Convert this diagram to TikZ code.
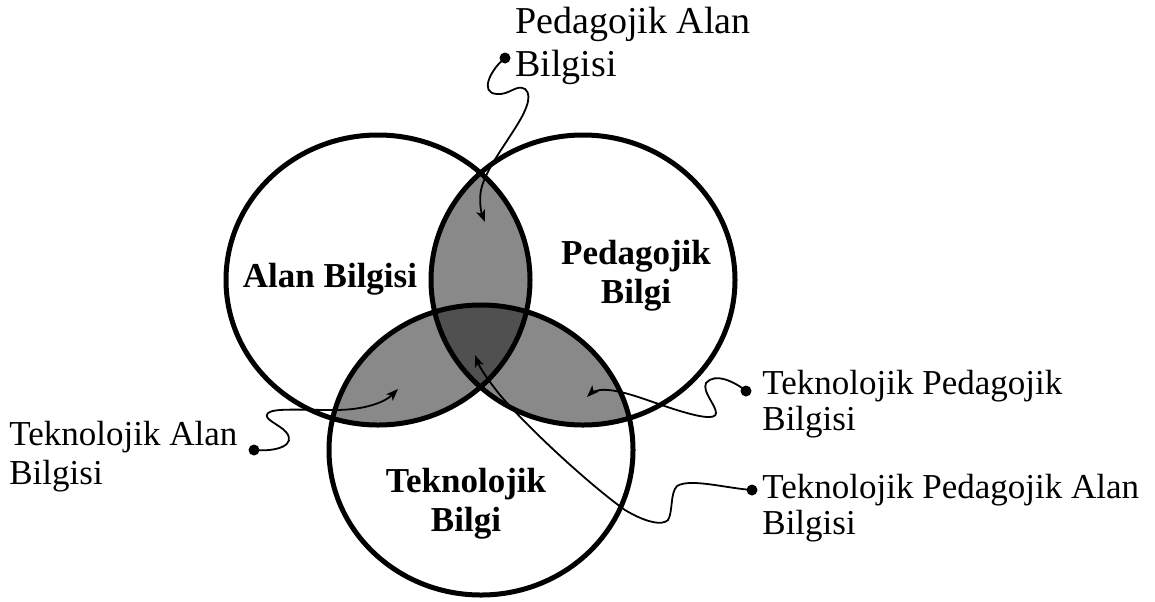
\documentclass[tikz,border=0pt]{standalone}
\usepackage{fontspec}
\setmainfont{Liberation Serif}
\usetikzlibrary{arrows.meta}
\definecolor{lensgray}{RGB}{137,137,137}
\definecolor{coregray}{RGB}{80,80,80}
\begin{document}
\begin{tikzpicture}[x=0.5pt,y=-0.5pt,
  venn/.style={x radius=76pt,y radius=72.5pt},
  ring/.style={line width=2.5pt,draw=black},
  conn/.style={line width=0.9pt,-{Stealth[length=6pt,width=4.5pt,inset=1.5pt]}},
  dotnode/.style={circle,fill=black,inner sep=0pt,minimum size=5.5pt},
  lbl/.style={font=\fontsize{17.5pt}{18pt}\selectfont,align=left,anchor=north west,inner sep=0pt},
  toplbl/.style={font=\fontsize{19pt}{21.5pt}\selectfont,align=left,anchor=north west,inner sep=0pt},
  leftlbl/.style={font=\fontsize{17.5pt}{19.5pt}\selectfont,align=left,anchor=north west,inner sep=0pt},
  blbl/.style={font=\fontsize{17.5pt}{19.5pt}\selectfont\bfseries,align=center,inner sep=0pt}]
\useasboundingbox (0,0) rectangle (1155,601);
\fill[white] (0,0) rectangle (1155,601);
% circle centres
\coordinate (cA) at (378,280);
\coordinate (cP) at (583,280);
\coordinate (cT) at (481,450);
% pairwise lenses
\begin{scope}
  \clip (cA) ellipse [venn];
  \fill[lensgray] (cP) ellipse [venn];
  \fill[lensgray] (cT) ellipse [venn];
\end{scope}
\begin{scope}
  \clip (cP) ellipse [venn];
  \fill[lensgray] (cT) ellipse [venn];
\end{scope}
\begin{scope}
  \clip (cA) ellipse [venn];
  \clip (cP) ellipse [venn];
  \fill[coregray] (cT) ellipse [venn];
\end{scope}
% outlines
\draw[ring] (cA) ellipse [venn];
\draw[ring] (cP) ellipse [venn];
\draw[ring] (cT) ellipse [venn];
% circle labels
\node[blbl,anchor=base] (ab) at (330,287) {Alan Bilgisi};
\node[blbl,anchor=north] (pb) at (636,240) {Pedagojik\\Bilgi};
\node[blbl,anchor=north] (tb) at (466,468) {Teknolojik\\Bilgi};
% outer labels
\node[toplbl] (pab) at (515,7) {Pedagojik Alan\\Bilgisi};
\node[leftlbl] (tab) at (9,421) {Teknolojik Alan\\Bilgisi};
\node[lbl] (tpb) at (762,370) {Teknolojik Pedagojik\\Bilgisi};
\node[lbl] (tpab) at (762,474) {Teknolojik Pedagojik Alan\\Bilgisi};
% dots and tips
\node[dotnode] (pabdot) at (505,58) {};
\node[dotnode] (tabdot) at (254,450) {};
\node[dotnode] (tpbdot) at (746,391) {};
\node[dotnode] (tpabdot) at (752,490) {};
\coordinate (pabtip) at (485,222);
\coordinate (tabtip) at (398,389);
\coordinate (tpbtip) at (587,397);
\coordinate (tpabtip) at (475,355);
% connectors
\draw[conn] (pabdot.center) .. controls (492,68) and (478,93) .. (497,94)
  .. controls (510,95) and (516,84) .. (525,89)
  .. controls (534,96) and (524,115) .. (512,133)
  .. controls (500,152) and (485,172) .. (481,190)
  .. controls (479,200) and (481,212) .. (pabtip);
\draw[conn] (tabdot.center) .. controls (277,452) and (297,445) .. (286,432)
  .. controls (279,424) and (262,419) .. (268,413)
  .. controls (274,408) and (300,410) .. (335,410)
  .. controls (365,410) and (385,402) .. (tabtip);
\draw[conn] (tpbdot.center) .. controls (735,382) and (715,372) .. (706,383)
  .. controls (702,392) and (716,405) .. (716,413)
  .. controls (716,420) and (700,417) .. (680,411)
  .. controls (650,402) and (620,388) .. (600,390)
  .. controls (594,391) and (590,394) .. (tpbtip);
\draw[conn] (tpabdot.center) .. controls (725,488) and (690,478) .. (677,486)
  .. controls (670,493) and (673,512) .. (668,520)
  .. controls (662,526) and (645,522) .. (625,510)
  .. controls (590,485) and (530,430) .. (500,395)
  .. controls (488,380) and (480,368) .. (tpabtip);
\end{tikzpicture}
\end{document}
